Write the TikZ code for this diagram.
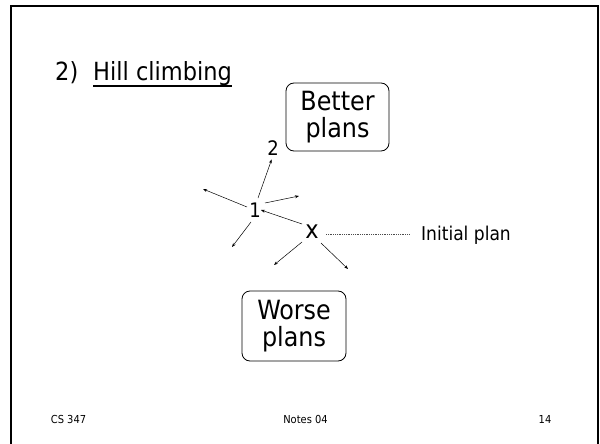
\documentclass[tikz,border=0pt]{standalone}
\usepackage{fontspec}
\setmainfont{DejaVu Sans Condensed}
\usetikzlibrary{arrows.meta}
\begin{document}
\begin{tikzpicture}[x=1pt,y=-1pt,
  every node/.style={inner sep=0pt},
  planbox/.style={draw,rounded corners=8pt,line width=0.8pt,align=center,
    font=\fontsize{26.5}{27}\selectfont},
  lbl/.style={font=\fontsize{20}{22}\selectfont},
  foot/.style={font=\fontsize{11}{12}\selectfont},
  arr/.style={-{Stealth[length=4pt,width=3pt]},line width=0.5pt},
  dots/.style={line width=0.5pt,dash pattern=on 1pt off 0.8pt,black!70}]
\useasboundingbox (0,0) rectangle (600,444);
\draw[line width=2pt] (11,444) -- (11,6) -- (598,6) -- (598,444);
% title
\node[anchor=base west,font=\fontsize{25}{27}\selectfont] (num) at (55,81) {2)};
\node[anchor=base west,font=\fontsize{25}{27}\selectfont] (title) at (93,81) {Hill climbing};
\draw[line width=1.3pt] ([yshift=-5pt]title.base west) -- ([yshift=-5pt]title.base east);
% boxes
\node[planbox,minimum width=103pt,minimum height=68pt] (better) at (337.5,117) {Better\\plans};
\node[planbox,minimum width=104pt,minimum height=70pt] (worse) at (294,326) {Worse\\plans};
% points
\node[lbl] (n2) at (273,148) {2};
\node[lbl] (n1) at (255,210) {1};
\node[lbl,font=\fontsize{25}{26}\selectfont] (nx) at (312,232) {x};
\coordinate (ul) at (203,189);
\coordinate (r1) at (299,196);
\coordinate (ll) at (232,247);
\coordinate (xl) at (274,265);
\coordinate (xr) at (348,269);
\draw[arr,shorten >=4pt] (258,198) -- (n2.south);
\draw[arr] (247,207) -- (ul);
\draw[arr] (265,203) -- (r1);
\draw[arr] (251,222) -- (ll);
\draw[arr] (302,224) -- (n1.east);
\draw[arr] (302,242) -- (xl);
\draw[arr] (321,243) -- (xr);
\node[lbl,anchor=west,font=\fontsize{19}{21}\selectfont] (init) at (421,235) {Initial plan};
\draw[dots] (326,234) -- (409,234);
% footer
\node[foot] (cs) at (68.5,419) {CS 347};
\node[foot] (notes) at (305.5,419) {Notes 04};
\node[foot] (pg) at (545,419) {14};
\end{tikzpicture}
\end{document}
